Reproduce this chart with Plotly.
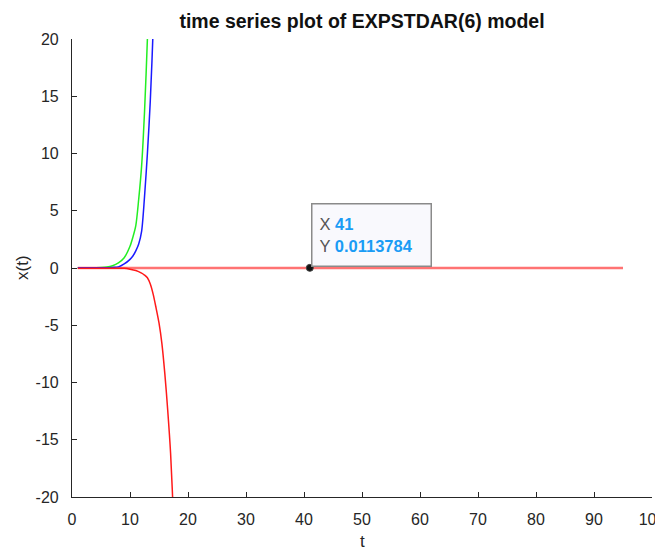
import plotly.graph_objects as go

# ---- data ----
green_t = [1, 2, 3, 4, 5, 6, 7, 8, 9, 10, 10.5, 11, 11.5, 12, 12.5, 13, 13.5]
green_x = [0.03, 0.03, 0.03, 0.03, 0.04, 0.08, 0.2, 0.45, 0.9, 1.9, 2.7, 3.7, 6.0, 8.9, 13.6, 20.0, 28.0]

blue_t = [1, 2, 3, 4, 5, 6, 7, 8, 9, 10, 10.5, 11, 11.5, 12, 12.5, 13, 13.5, 14, 14.5]
blue_x = [0.02, 0.02, 0.02, 0.02, 0.02, 0.03, 0.05, 0.1, 0.35, 0.75, 1.05, 1.5, 2.1, 3.2, 6.2, 10.0, 14.6, 21.0, 30.0]

red_t = [1, 2, 3, 4, 5, 6, 7, 8, 9, 10, 11, 12, 12.5, 13, 13.5, 14, 14.5, 15, 15.5, 16, 16.5, 17, 17.5, 18]
red_x = [-0.02, -0.02, -0.02, -0.02, -0.02, -0.02, -0.02, -0.02, -0.03, -0.1, -0.22, -0.45, -0.62, -0.85,
         -1.4, -2.3, -3.5, -4.8, -6.6, -9.2, -12.4, -16.2, -22.0, -30.0]

flat_t = [1, 10, 20, 30, 41, 50, 60, 70, 80, 95]
flat_x = [0.0, 0.01, 0.012, 0.0115, 0.0113784, 0.011, 0.0105, 0.01, 0.0095, 0.009]

tip_t = 41
tip_x = 0.0113784

x_ticks = [0, 10, 20, 30, 40, 50, 60, 70, 80, 90, 100]
x_labels = ["0", "10", "20", "30", "40", "50", "60", "70", "80", "90", "100"]
y_ticks = [-20, -15, -10, -5, 0, 5, 10, 15, 20]
y_labels = ["-20", "-15", "-10", "-5", "0", "5", "10", "15", "20"]

FONT = "Liberation Sans, Arial, sans-serif"
AX = "#262626"
# page body has an 8px margin, so the figure is sized to fit the 663x550 window
W, H = 655, 542
L, R, T, B = 64, 11, 31, 53

fig = go.Figure()
fig.add_trace(go.Scatter(x=flat_t, y=flat_x, mode="lines",
                         line=dict(color="rgba(255,40,40,0.65)", width=2.5), hoverinfo="skip"))
fig.add_trace(go.Scatter(x=green_t, y=green_x, mode="lines",
                         line=dict(color="#22ee22", width=1.5, shape="spline", smoothing=0.8)))
fig.add_trace(go.Scatter(x=blue_t, y=blue_x, mode="lines",
                         line=dict(color="#1a1aff", width=1.5, shape="spline", smoothing=0.8)))
fig.add_trace(go.Scatter(x=red_t, y=red_x, mode="lines",
                         line=dict(color="#ff1a1a", width=1.5, shape="spline", smoothing=0.8)))
fig.add_trace(go.Scatter(x=[tip_t], y=[tip_x], mode="markers",
                         marker=dict(color="#111111", size=7, line=dict(color="#444", width=1))))

fig.add_annotation(
    x=tip_t, y=tip_x, xref="x", yref="y", showarrow=False,
    xanchor="left", yanchor="bottom", xshift=1, yshift=1,
    align="left", width=104, height=47, borderpad=7,
    bgcolor="#f9f9fd", bordercolor="#8a8a8a", borderwidth=1.5,
    font=dict(family=FONT, size=16.5, color="#555555"),
    text=("X <span style='color:#1a9cf5'><b>%d</b></span><br>"
          "Y <span style='color:#1a9cf5'><b>%s</b></span>") % (tip_t, "0.0113784"),
)
# axis titles
fig.add_annotation(x=0.5, y=0, xref="paper", yref="paper", showarrow=False,
                   xanchor="center", yanchor="middle", yshift=-44,
                   text="t", font=dict(family=FONT, size=17, color=AX))
fig.add_annotation(x=0, y=0.5, xref="paper", yref="paper", showarrow=False,
                   xanchor="center", yanchor="middle", xshift=-50, textangle=-90,
                   text="x(t)", font=dict(family=FONT, size=17, color=AX))

fig.update_layout(
    width=W, height=H,
    margin=dict(l=L, r=R, t=T, b=B),
    paper_bgcolor="white", plot_bgcolor="white",
    showlegend=False,
    font=dict(family=FONT, size=16, color=AX),
    title=dict(text="<b>time series plot of EXPSTDAR(6) model</b>",
               x=0.5, xref="paper", y=1 - 13 / H, yref="container",
               xanchor="center", yanchor="middle",
               font=dict(family=FONT, size=19.5, color="#111111")),
)
fig.update_xaxes(range=[0, 100], tickvals=x_ticks, ticktext=x_labels, ticks="inside", ticklen=5,
                 tickcolor=AX, showline=True, linecolor=AX, linewidth=1.2,
                 showgrid=False, zeroline=False, mirror=False, automargin=False,
                 ticklabelstandoff=8, ticklabeloverflow="allow",
                 tickfont=dict(size=16, color=AX))
fig.update_yaxes(range=[-20, 20], tickvals=y_ticks, ticktext=y_labels, ticks="inside", ticklen=5,
                 tickcolor=AX, showline=True, linecolor=AX, linewidth=1.2,
                 showgrid=False, zeroline=False, mirror=False, automargin=False,
                 ticklabelstandoff=9, ticklabeloverflow="allow",
                 tickfont=dict(size=16, color=AX))

fig.write_html("out.html")
